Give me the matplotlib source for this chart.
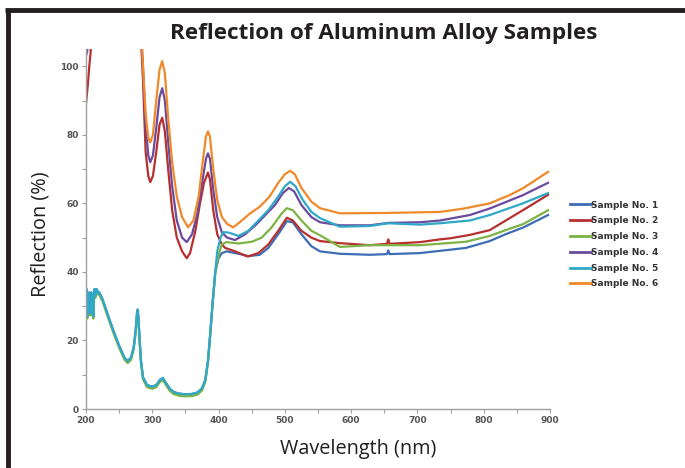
import numpy as np
import matplotlib
matplotlib.use("Agg")
import matplotlib.pyplot as plt
from matplotlib.lines import Line2D

# shared UV part of samples 1, 3, 5 (they lie on top of each other below 400 nm)
low_nm = [200, 201, 202, 203, 204, 205, 206, 207, 208, 209, 210, 211, 212, 213, 214,
          216, 218, 220, 225, 232, 241, 250, 258, 263, 268, 272, 275, 277, 278, 279,
          281, 283, 286, 292, 300, 306, 312, 316, 320, 326, 332, 340, 350, 360, 368,
          375, 380, 384, 387, 391, 395]
low_r = [30, 35, 27, 33, 29, 34, 28, 31, 34, 28, 32, 27, 33, 35, 33,
         35, 34, 34, 32, 28, 23, 18.5, 15, 14, 15, 18, 23, 28, 29, 27,
         20, 14, 9.3, 7, 6.5, 7, 8.6, 9, 7.8, 6, 5, 4.5, 4.3, 4.4, 4.8,
         6, 8.5, 14, 21, 31, 40]

s1_nm = [400, 405, 412, 430, 445, 462, 475, 490, 503, 512, 525, 540, 553, 583, 628,
         654, 656, 658, 704, 773, 809, 833, 860, 897]
s1_r = [44, 45.5, 46, 45.3, 44.6, 45, 47, 51, 54.8, 54.5, 51, 47.5, 46, 45.3, 45,
        45.2, 46.3, 45.2, 45.5, 47, 49, 51, 53, 56.6]

s3_nm = [400, 405, 412, 430, 450, 465, 480, 495, 503, 512, 525, 540, 553, 583, 628,
         704, 773, 809, 833, 860, 897]
s3_r = [45, 48, 48.7, 48.3, 48.8, 50, 53, 57, 58.6, 58, 55, 52, 50.7, 47.3, 47.8,
        47.8, 48.8, 50.5, 52.2, 54, 58]

s5_nm = [398, 403, 407, 415, 430, 445, 460, 475, 490, 500, 508, 516, 527, 540, 553,
         583, 628, 656, 704, 734, 779, 809, 859, 897]
s5_r = [46, 50, 51.6, 51.5, 50.5, 52, 55, 58, 62, 65, 66.3, 65, 61, 57.5, 55.7,
        53.2, 53.4, 54.2, 53.8, 54.2, 55, 56.6, 60, 63]

# samples 2, 4, 6 saturate (>105 %) between ~208 and ~284 nm
s2_nm = [200, 203, 205, 207, 209, 280, 283, 286, 290, 294, 297, 301, 306, 311, 315,
         319, 324, 330, 337, 345, 352, 357, 365, 372, 378, 384, 387, 392, 398, 405,
         410, 425, 444, 460, 475, 490, 503, 512, 525, 540, 553, 583, 628, 654, 656,
         658, 704, 734, 749, 779, 809, 859, 897]
s2_r = [89, 95, 100, 104, 110, 115, 108, 96, 75, 68, 66.2, 68, 75, 83, 85,
        81, 70, 58, 50, 46, 44, 45.5, 52, 60, 66, 69, 67, 58, 51, 48,
        47, 46, 44.5, 45.5, 48, 52, 55.8, 55, 52, 50, 49, 48.4, 47.8, 48.2, 49.5,
        48.2, 48.7, 49.5, 49.8, 50.8, 52.2, 58, 62.5]

s4_nm = [200, 202, 204, 280, 283, 286, 290, 294, 297, 301, 306, 311, 315, 319, 324,
         330, 337, 345, 352, 360, 368, 376, 381, 384, 387, 392, 398, 405, 413, 425,
         440, 455, 470, 485, 497, 506, 514, 525, 540, 553, 583, 628, 656, 704, 734,
         779, 809, 859, 897]
s4_r = [103, 104.5, 112, 115, 110, 100, 83, 74, 72, 74, 82, 91, 93.6, 90, 78,
        65, 55, 50, 48.7, 51, 57, 67, 73, 74.6, 73, 64, 56, 51.5, 50, 49.3,
        51, 53.5, 56.5, 59.5, 63, 64.5, 63.5, 59.5, 56, 54.5, 53.6, 53.6, 54.3, 54.5, 55,
        56.6, 58.5, 62.4, 66]

s6_nm = [200, 280, 283, 286, 290, 294, 297, 301, 306, 311, 315, 319, 324, 330, 337,
         345, 354, 362, 370, 376, 381, 384, 387, 392, 398, 405, 413, 422, 432, 447,
         462, 477, 490, 500, 508, 515, 525, 540, 553, 583, 650, 734, 770, 809, 840,
         859, 897]
s6_r = [112, 115, 110, 100, 86, 79, 77.8, 80, 90, 99, 101.5, 98, 85, 72, 62,
        56, 53, 55, 62, 72, 79.5, 81, 79.5, 70, 61, 56, 54, 53, 54.5, 57,
        59, 62, 66, 68.5, 69.5, 68.5, 64.5, 60.5, 58.6, 57.1, 57.2, 57.5, 58.5, 60, 62.5,
        64.4, 69.2]

labels = ["Sample No. 1", "Sample No. 2", "Sample No. 3",
          "Sample No. 4", "Sample No. 5", "Sample No. 6"]
colors = ["#3d6db5", "#b5302f", "#7db344", "#6b4b9e", "#30a8c8", "#f0892a"]

series = [
    (low_nm + s1_nm, low_r + s1_r),
    (s2_nm, s2_r),
    (low_nm + s3_nm, [v - 0.6 for v in low_r] + s3_r),
    (s4_nm, s4_r),
    (low_nm + s5_nm, low_r + s5_r),
    (s6_nm, s6_r),
]

fig = plt.figure(figsize=(6.85, 4.68), dpi=100)
ax = fig.add_axes([0.1255, 0.126, 0.6775, 0.769])

for (x, y), c, lab in zip(series, colors, labels):
    ax.plot(x, y, color=c, lw=1.6, label=lab, solid_joinstyle="round")

ax.set_xlim(200, 900)
ax.set_ylim(0, 105)
ax.set_xticks(np.arange(200, 901, 100))
ax.set_xticks(np.arange(250, 900, 100), minor=True)
ax.set_yticks(np.arange(0, 101, 20))
ax.set_yticks(np.arange(10, 100, 20), minor=True)

for side in ["top", "right"]:
    ax.spines[side].set_visible(False)
for side in ["left", "bottom"]:
    ax.spines[side].set_color("#a0a0a0")
    ax.spines[side].set_linewidth(1.0)
ax.tick_params(which="both", colors="#a0a0a0", length=3, width=0.8, direction="out")
ax.tick_params(labelsize=6.5, labelcolor="#555555", pad=2)
for t in ax.get_xticklabels() + ax.get_yticklabels():
    t.set_fontweight("bold")

ax.set_xlabel("Wavelength (nm)", fontsize=14.3, family="Open Sans", color="#231f20")
ax.xaxis.set_label_coords(0.586, -0.082)
ax.set_ylabel("Reflection (%)", fontsize=14.3, family="Open Sans", color="#231f20")
ax.yaxis.set_label_coords(-0.077, 0.485)

fig.text(0.56, 0.928, "Reflection of Aluminum Alloy Samples", ha="center", va="center",
         fontsize=16.2, fontweight="bold", family="Open Sans", color="#231f20")

leg = ax.legend(loc="center left", bbox_to_anchor=(1.025, 0.457), frameon=False,
                fontsize=6.5, handlelength=2.3, handletextpad=0.0, labelspacing=0.75)
for t in leg.get_texts():
    t.set_fontweight("bold")
    t.set_color("#333333")
for h in leg.get_lines():
    h.set_linewidth(2.0)

# black frame around the figure (top and left edges visible)
fig.add_artist(Line2D([0.008, 1.0], [0.978, 0.978], transform=fig.transFigure,
                      color="#231f20", lw=3.5, solid_capstyle="butt"))
fig.add_artist(Line2D([0.011, 0.011], [0.0, 0.978], transform=fig.transFigure,
                      color="#231f20", lw=3.5, solid_capstyle="butt"))

fig.savefig("out.png", dpi=100)
